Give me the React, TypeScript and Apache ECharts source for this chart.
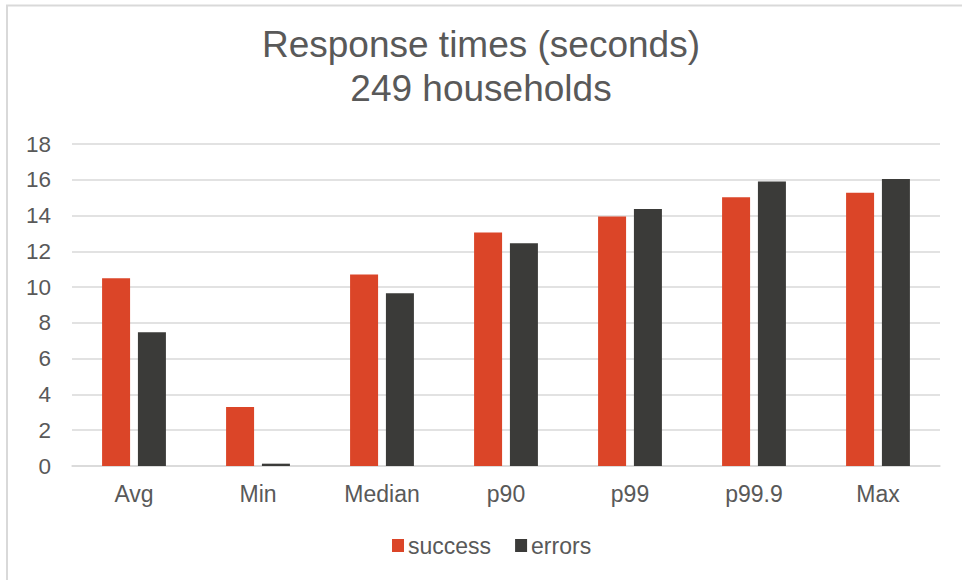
import React, { useEffect, useRef } from "react";
import * as echarts from "echarts";

const categories = ["Avg", "Min", "Median", "p90", "p99", "p99.9", "Max"];
const successValues = [10.5, 3.3, 10.7, 13.05, 13.95, 15.03, 15.27];
const errorValues = [7.47, 0.13, 9.65, 12.45, 14.37, 15.9, 16.05];
const seriesNames = ["success", "errors"];
const titleText = "Response times (seconds)\n249 households";

export default function App() {
  const ref = useRef<HTMLDivElement>(null);
  useEffect(() => {
    if (!ref.current) return;
    const chart = echarts.init(ref.current, null, { renderer: "svg" });
    const font = "Liberation Sans, Arial, sans-serif";
    chart.setOption({
      animation: false,
      backgroundColor: "#ffffff",
      title: {
        text: titleText,
        left: "center",
        top: 17,
        textStyle: {
          fontFamily: font,
          fontSize: 37,
          fontWeight: "normal",
          color: "#595959",
          lineHeight: 44,
        },
      },
      legend: {
        data: seriesNames,
        top: 529,
        left: 387,
        itemWidth: 12,
        itemHeight: 13,
        itemGap: 24,
        icon: "rect",
        textStyle: { fontFamily: font, fontSize: 23, color: "#595959", padding: [0, 0, 0, -1] },
      },
      grid: { left: 72, right: 22, top: 144, bottom: 114, containLabel: false },
      xAxis: {
        type: "category",
        data: categories,
        axisLine: { show: true, lineStyle: { color: "#d9d9d9", width: 1.5 } },
        axisTick: { show: false },
        axisLabel: { fontFamily: font, fontSize: 23, color: "#595959", margin: 16 },
      },
      yAxis: {
        type: "value",
        min: 0,
        max: 18,
        interval: 2,
        axisLine: { show: false },
        axisTick: { show: false },
        splitLine: { lineStyle: { color: "#d9d9d9", width: 1.5 } },
        axisLabel: { fontFamily: font, fontSize: 22.5, color: "#595959", margin: 21 },
      },
      graphic: [
        {
          type: "rect",
          shape: { x: 7, y: 5.5, width: 1000, height: 1000 },
          style: { fill: "none", stroke: "#d9d9d9", lineWidth: 2 },
          silent: true,
        },
      ],
      series: [
        {
          name: seriesNames[0],
          type: "bar",
          data: successValues,
          barWidth: 28,
          barGap: "28%",
          itemStyle: { color: "#DB4528" },
        },
        {
          name: seriesNames[1],
          type: "bar",
          data: errorValues,
          barWidth: 28,
          barGap: "28%",
          itemStyle: { color: "#3B3B39" },
        },
      ],
    });
    return () => chart.dispose();
  }, []);
  return (
    <div
      ref={ref}
      style={{ position: "absolute", left: 0, top: 0, width: 962, height: 580 }}
    />
  );
}
